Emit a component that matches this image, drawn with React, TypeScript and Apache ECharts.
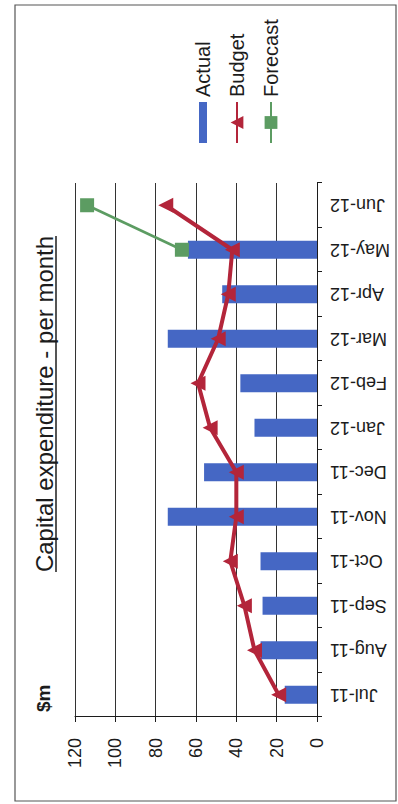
import React, { useEffect, useRef } from "react";
import * as echarts from "echarts";

// Monthly capital expenditure, $m
const months = [
  "Jul-11", "Aug-11", "Sep-11", "Oct-11", "Nov-11", "Dec-11",
  "Jan-12", "Feb-12", "Mar-12", "Apr-12", "May-12", "Jun-12",
];
const actual = [16, 28, 27, 28, 74, 56, 31, 38, 74, 47, 64, null];
const budget = [19, 31, 36, 43, 40, 40, 53, 59, 49, 44, 42, 75];
const forecast = [null, null, null, null, null, null, null, null, null, null, 67, 114];
const valueTicks = { min: 0, max: 120, step: 20 };

const TITLE = "Capital expenditure - per month";
const FONT = "'Liberation Sans', Arial, Helvetica, sans-serif";

// The page is laid out sideways: the chart is drawn on an 804 x 398 sheet
// which is then turned a quarter turn anticlockwise.
const SHEET_W = 804;
const SHEET_H = 398;

const BLUE = "#4567c4";
const RED = "#b3253a";
const GREEN = "#5c9c62";
const INK = "#1c1c1c";

function measure(text: string, font: string): number {
  const ctx = document.createElement("canvas").getContext("2d");
  if (!ctx) return text.length * 11;
  ctx.font = font;
  return ctx.measureText(text).width;
}

export default function App() {
  const ref = useRef<HTMLDivElement>(null);

  useEffect(() => {
    if (!ref.current) return;
    const chart = echarts.init(ref.current, null, { renderer: "svg" });

    const titleSize = 24;
    const titleW = measure(TITLE, `${titleSize}px ${FONT}`);
    const titleCx = 400;

    chart.setOption({
      animation: false,
      backgroundColor: "#ffffff",
      textStyle: { fontFamily: FONT },
      grid: { left: 87, right: 183, top: 75, bottom: 81, containLabel: false },
      legend: {
        orient: "vertical",
        left: 655,
        top: 188,
        itemWidth: 41,
        itemHeight: 16,
        itemGap: 14,
        textStyle: { fontSize: 20, color: INK, fontFamily: FONT },
        data: [
          {
            name: "Actual",
            icon: "path://M0,0h0.05v0.05h-0.05z M0,4h41v8h-41z M40.95,15.95h0.05v0.05h-0.05z",
          },
          { name: "Budget" },
          { name: "Forecast" },
        ],
      },
      xAxis: {
        type: "category",
        data: months,
        axisLine: { show: true, lineStyle: { color: INK, width: 1 } },
        axisTick: { show: true, length: 5, lineStyle: { color: INK } },
        axisLabel: {
          rotate: 90,
          margin: 13,
          fontSize: 18,
          color: INK,
          fontFamily: FONT,
        },
        splitLine: { show: false },
      },
      yAxis: {
        type: "value",
        min: valueTicks.min,
        max: valueTicks.max,
        interval: valueTicks.step,
        axisLine: { show: true, lineStyle: { color: INK, width: 1 } },
        axisTick: { show: true, length: 5, lineStyle: { color: INK } },
        axisLabel: { margin: 21, fontSize: 18, color: INK, fontFamily: FONT },
        splitLine: { show: true, lineStyle: { color: "#333", width: 1 } },
      },
      series: [
        {
          name: "Actual",
          type: "bar",
          data: actual,
          barWidth: "40%",
          itemStyle: { color: BLUE },
        },
        {
          name: "Budget",
          type: "line",
          data: budget,
          symbol: "triangle",
          symbolSize: 15,
          itemStyle: { color: RED },
          lineStyle: { color: RED, width: 4 },
          z: 3,
        },
        {
          name: "Forecast",
          type: "line",
          data: forecast,
          symbol: "rect",
          symbolSize: 14,
          itemStyle: { color: GREEN },
          lineStyle: { color: GREEN, width: 2.5 },
          z: 4,
        },
      ],
      graphic: [
        {
          type: "rect",
          shape: { x: 3, y: 15, width: 796, height: 381 },
          style: { fill: "none", stroke: "#555", lineWidth: 1.2 },
          silent: true,
        },
        {
          type: "text",
          x: titleCx,
          y: 44,
          style: {
            text: TITLE,
            font: `${titleSize}px ${FONT}`,
            fill: INK,
            align: "center",
            verticalAlign: "middle",
          },
        },
        {
          type: "line",
          shape: {
            x1: titleCx - titleW / 2,
            y1: 56,
            x2: titleCx + titleW / 2,
            y2: 56,
          },
          style: { stroke: INK, lineWidth: 1.5 },
        },
        {
          type: "text",
          x: 92,
          y: 43,
          style: {
            text: "$m",
            font: `bold 19px ${FONT}`,
            fill: INK,
            align: "left",
            verticalAlign: "middle",
          },
        },
      ],
    });

    return () => chart.dispose();
  }, []);

  return (
    <div
      style={{
        position: "fixed",
        left: 0,
        top: 0,
        width: SHEET_H,
        height: SHEET_W,
        overflow: "hidden",
        background: "#ffffff",
      }}
    >
      <div
        ref={ref}
        style={{
          position: "absolute",
          left: 0,
          top: 0,
          width: SHEET_W,
          height: SHEET_H,
          transformOrigin: "0 0",
          transform: `translateY(${SHEET_W}px) rotate(-90deg)`,
        }}
      />
    </div>
  );
}
